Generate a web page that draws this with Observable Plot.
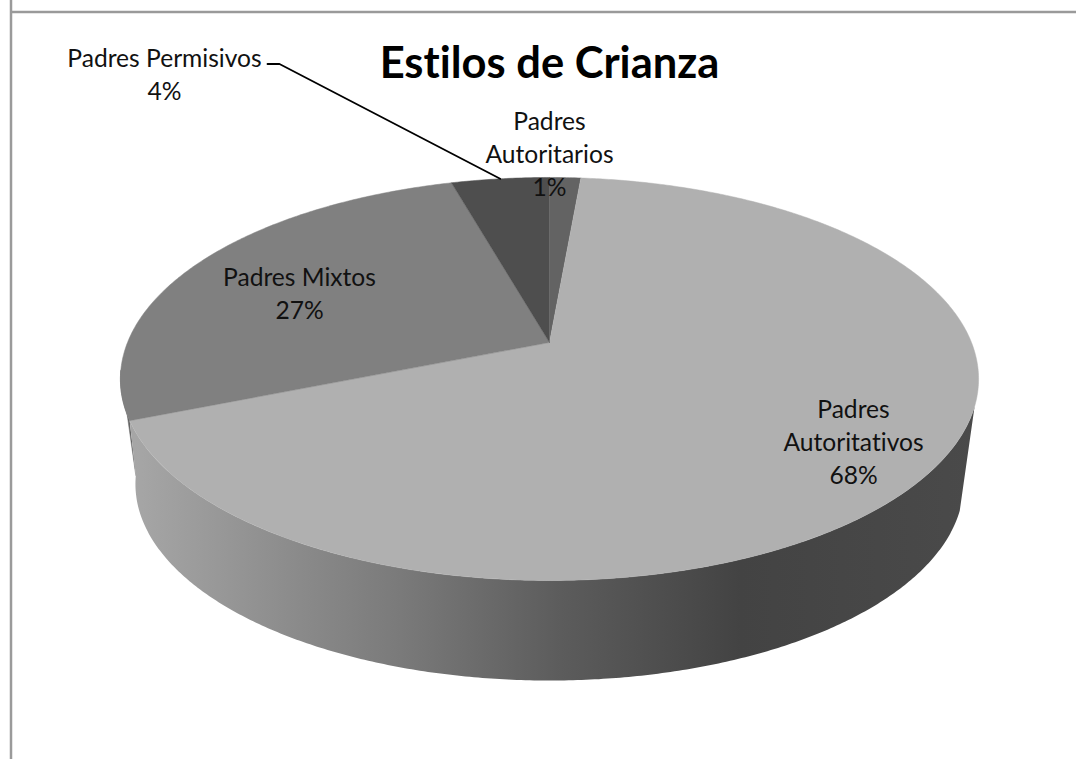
<!DOCTYPE html>
<html>
<head>
<meta charset="utf-8">
<script src="https://cdn.jsdelivr.net/npm/d3@7"></script>
<script src="https://cdn.jsdelivr.net/npm/@observablehq/plot@0.6"></script>
<style>
html,body{margin:0;padding:0;background:#fff;overflow:hidden}
svg{display:block;font-variant-ligatures:none}
</style>
</head>
<body>
<div id="chart"></div>
<script>
const chartTitle = "Estilos de Crianza";
const categories = ["Padres Autoritarios", "Padres Autoritativos", "Padres Mixtos", "Padres Permisivos"];
const labelLines = ["Padres\nAutoritarios", "Padres\nAutoritativos", "Padres Mixtos", "Padres Permisivos"];
const shares = [1.4, 67.5, 26.7, 4.4];
const sliceColors = ["#636363", "#b0b0b0", "#808080", "#4e4e4e"];

// Layout of the perspective disc
const W = 1076, H = 759;
const apex = {x: 549, y: 342};
const persp = 0.181, bx = 422, ay = 194.9;
const bottom = {scaleX: 0.965, scaleY: 0.975, y: 448};
const labelAt = [{x: 549, y: 152}, {x: 853, y: 440}, {x: 299, y: 291}, {x: 164, y: 72}];

const rad = d => d * Math.PI / 180;
const topPt = t => {
  const u = Math.sin(rad(t)), v = Math.cos(rad(t)), k = 1 + persp * v;
  return {x: apex.x + bx * u / k, y: apex.y - ay * v / k};
};
const botPt = t => {
  const u = Math.sin(rad(t)), v = Math.cos(rad(t)), k = 1 + persp * v;
  return {x: apex.x + bottom.scaleX * bx * u / k, y: bottom.y - bottom.scaleY * ay * v / k};
};
const total = d3.sum(shares);
let acc = 0;
const slices = categories.map((name, i) => {
  const a0 = acc / total * 360;
  acc += shares[i];
  const a1 = acc / total * 360;
  return {name, a0, a1, mid: (a0 + a1) / 2, color: sliceColors[i],
          label: `${labelLines[i]}\n${Math.round(shares[i])}%`, ...labelAt[i]};
});
const arc = (a0, a1, f) => {
  const n = Math.max(2, Math.ceil((a1 - a0) * 2));
  return d3.range(n + 1).map(i => f(a0 + (a1 - a0) * i / n));
};
const faceOf = s => [apex, ...arc(s.a0, s.a1, topPt)];

const xy = {x: "x", y: "y"};
const mixStart = slices[2].a0;
const wallEnd = mixStart + 14;
const perm = slices[3];
const leaderEnd = topPt(perm.mid);
const leader = [{x: 267, y: 63.5}, {x: 279, y: 63.5}, leaderEnd];
const mixedWall = [...arc(mixStart, wallEnd, topPt), botPt(wallEnd)];
const mainWall = [...arc(108, mixStart, topPt), ...arc(108, wallEnd, botPt).reverse()];

const chart = Plot.plot({
  width: W, height: H,
  margin: 0,
  x: {domain: [0, W], range: [0, W], axis: null},
  y: {domain: [0, H], range: [0, H], axis: null},
  marks: [
    Plot.ruleX([10.5], {stroke: "#9a9a9a", strokeWidth: 2.5}),
    Plot.ruleY([11.5], {x1: 10, x2: W, stroke: "#9a9a9a", strokeWidth: 2.5}),
    Plot.line(mixedWall, {...xy, fill: "#666666", stroke: "#666666", strokeWidth: 0.5}),
    Plot.line(mainWall, {...xy, fill: "url(#wallShade)", stroke: "none"}),
    ...slices.map(s => Plot.line(faceOf(s), {...xy, fill: s.color, stroke: s.color, strokeWidth: 0.5})),
    Plot.line(leader, {...xy, stroke: "#000", strokeWidth: 1.8, curve: "linear"}),
    Plot.text(slices, {
      x: "x", y: "y", text: "label",
      fontFamily: "Lato", fontSize: 24.6, lineHeight: 1.34,
      fill: "#111", textAnchor: "middle", lineAnchor: "middle"
    }),
    Plot.text([chartTitle], {
      x: () => 549, y: () => 64, text: d => d,
      fontFamily: "Lato", fontWeight: 700, fontSize: 43.5,
      fill: "#000", textAnchor: "middle", lineAnchor: "middle"
    })
  ]
});

const wallStops = [[135, "#a6a6a6"], [300, "#8a8a8a"], [400, "#7a7a7a"], [560, "#5c5c5c"], [740, "#434343"], [980, "#4a4a4a"]];
const grad = d3.select(chart).insert("defs", ":first-child")
  .append("linearGradient").attr("id", "wallShade")
  .attr("gradientUnits", "userSpaceOnUse")
  .attr("x1", 0).attr("x2", W).attr("y1", 0).attr("y2", 0);
wallStops.forEach(([x, c]) => grad.append("stop").attr("offset", x / W).attr("stop-color", c));

document.getElementById("chart").append(chart);
</script>
</body>
</html>
